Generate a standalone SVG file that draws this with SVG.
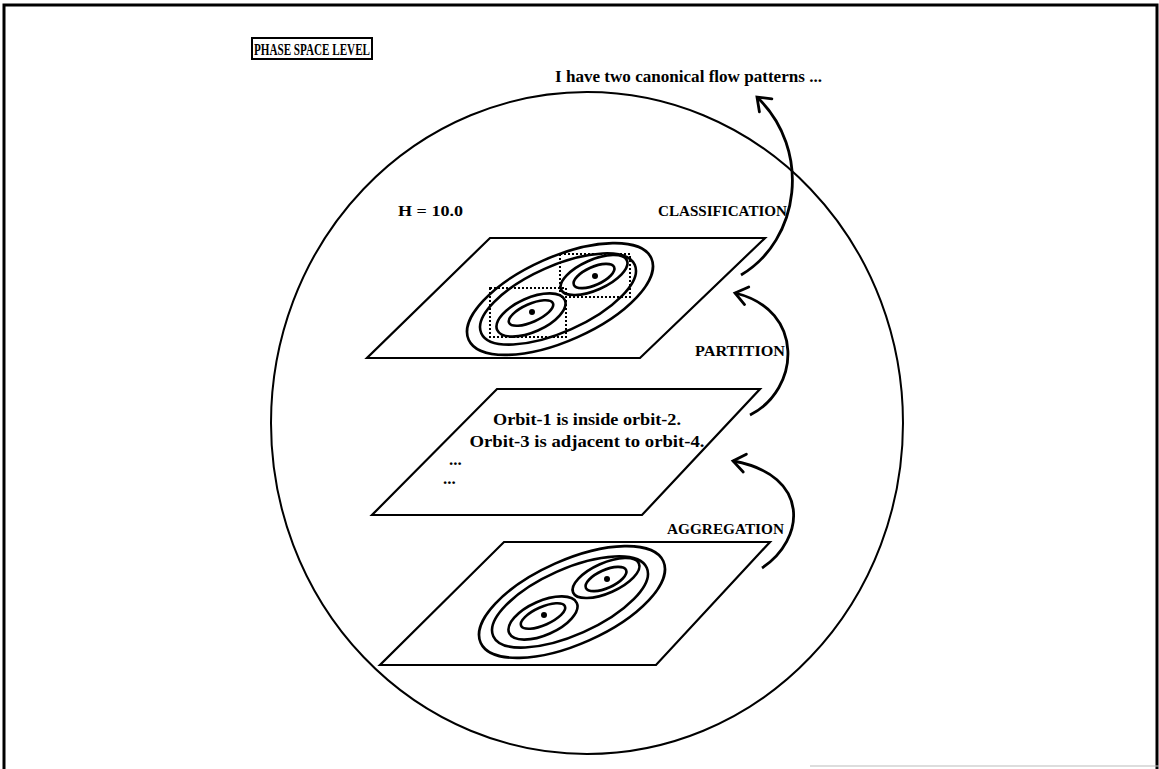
<svg xmlns="http://www.w3.org/2000/svg" width="1159" height="769" viewBox="0 0 1159 769">
<defs>
<style>
text{font-family:"Liberation Serif","DejaVu Serif",serif;font-weight:bold;fill:#000}
.lbl{font-size:15px}
.txt{font-size:17px}
.plane{fill:none;stroke:#000;stroke-width:2.2;stroke-linejoin:miter}
.orb{fill:none;stroke:#000;stroke-width:2.6}
.box{fill:none;stroke:#000;stroke-width:2;stroke-dasharray:2 2}
.arr{fill:none;stroke:#000;stroke-width:2.8;marker-end:url(#chev)}
</style>
<marker id="chev" markerUnits="userSpaceOnUse" markerWidth="30" markerHeight="30" viewBox="-15 -15 30 30" refX="0" refY="0" orient="auto" overflow="visible">
<path d="M-12 -9 L0 0 L-12 9" fill="none" stroke="#000" stroke-width="2.8" stroke-linecap="round" stroke-linejoin="miter"/>
</marker>
<g id="orbits">
<ellipse class="orb" cx="560" cy="299" rx="100" ry="42" transform="rotate(-24 560 299)"/>
<ellipse class="orb" cx="558" cy="299" rx="84" ry="33" transform="rotate(-24 558 299)"/>
<ellipse class="orb" cx="594" cy="275" rx="36" ry="15" transform="rotate(-24 594 275)"/>
<ellipse class="orb" cx="594" cy="276" rx="22" ry="9" transform="rotate(-24 594 276)"/>
<ellipse class="orb" cx="531" cy="315" rx="37" ry="17" transform="rotate(-24 531 315)"/>
<ellipse class="orb" cx="531" cy="313" rx="24" ry="9" transform="rotate(-24 531 313)"/>
<circle cx="595" cy="276" r="3" fill="#000"/>
<circle cx="532" cy="312" r="3" fill="#000"/>
</g>
</defs>
<rect width="1159" height="769" fill="#fff"/>
<g id="frame" fill="none" stroke="#000">
<path d="M4 769 L4 5 L1157 5 L1157 769" stroke-width="3"/>
<path d="M810 766 L1159 766" stroke="#bbb" stroke-width="1"/>
</g>
<g id="title">
<rect x="252" y="38" width="120" height="21" fill="none" stroke="#000" stroke-width="2"/>
<text x="312" y="55" text-anchor="middle" font-size="16" textLength="116" lengthAdjust="spacingAndGlyphs">PHASE SPACE LEVEL</text>
</g>
<ellipse id="boundary" cx="587" cy="423" rx="316" ry="331" fill="none" stroke="#000" stroke-width="2"/>
<text class="lbl" x="398" y="216" textLength="65" lengthAdjust="spacingAndGlyphs">H = 10.0</text>
<g id="plane-top">
<path class="plane" d="M490 238 L765 238 L640 358 L367 358 Z"/>
<use href="#orbits"/>
<rect class="box" x="490" y="288" width="76" height="49"/>
<rect class="box" x="560" y="254" width="70" height="43"/>
</g>
<g id="plane-middle">
<path class="plane" d="M497 389 L760 389 L642 515 L372 515 Z"/>
<text class="txt" x="587" y="425" text-anchor="middle" textLength="188" lengthAdjust="spacingAndGlyphs">Orbit-1 is inside orbit-2.</text>
<text class="txt" x="587" y="447" text-anchor="middle" textLength="235" lengthAdjust="spacingAndGlyphs">Orbit-3 is adjacent to orbit-4.</text>
<text class="txt" x="449" y="465">...</text>
<text class="txt" x="443" y="484">...</text>
</g>
<g id="plane-bottom">
<path class="plane" d="M504 542 L770 542 L656 665 L380 665 Z"/>
<use href="#orbits" transform="translate(12 303)"/>
</g>
<g id="labels">
<text class="lbl" x="787" y="216" text-anchor="end" textLength="129" lengthAdjust="spacingAndGlyphs">CLASSIFICATION</text>
<text class="lbl" x="785" y="356" text-anchor="end" textLength="90" lengthAdjust="spacingAndGlyphs">PARTITION</text>
<text class="lbl" x="784" y="534" text-anchor="end" textLength="117" lengthAdjust="spacingAndGlyphs">AGGREGATION</text>
<text class="txt" x="555" y="82" textLength="267" lengthAdjust="spacingAndGlyphs">I have two canonical flow patterns ...</text>
</g>
<g id="connectors">
<path class="arr" d="M762 568 C805 540 812 475 733 461"/>
<path class="arr" d="M750 415 C800 390 806 310 735 293"/>
<path class="arr" d="M741 275 C800 240 812 150 757 97"/>
</g>
</svg>
